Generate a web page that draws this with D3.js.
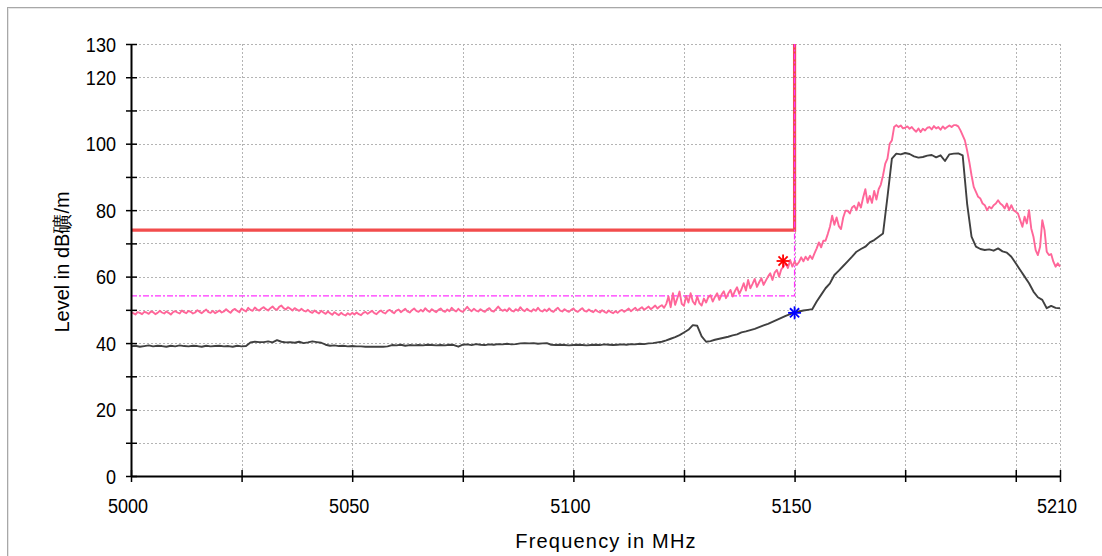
<!DOCTYPE html>
<html><head><meta charset="utf-8">
<script src="https://cdn.jsdelivr.net/npm/d3@7/dist/d3.min.js"></script>
<style>
html,body{margin:0;padding:0;background:#fff;overflow:hidden;}
svg{display:block;}
text{font-family:"Liberation Sans",Arial,sans-serif;fill:#000;}
</style></head><body>
<svg id="chart" width="1102" height="556"></svg>
<script>
// ---- data ----
const freqStart = 5000;
const peakStep = 0.5;   // MHz between peak samples
const avgStep = 1;      // MHz between average samples
const peakLevel = [
 49.2,49.0,48.6,49.3,49.1,48.7,49.4,49.2,48.8,49.5,49.3,48.7,49.1,49.7,49.2,48.9,49.5,49.1,48.6,49.3,
 49.6,49.2,48.9,49.8,49.3,49.0,49.7,49.4,48.9,49.2,49.9,49.4,49.0,49.6,50.1,49.3,49.1,49.7,49.0,49.4,
 49.8,49.2,49.5,50.2,49.6,49.1,49.9,50.3,49.7,49.3,50.4,49.9,49.5,50.6,50.0,49.7,50.7,50.1,49.8,50.4,
 50.8,50.2,49.8,50.5,51.0,50.3,50.0,50.9,51.3,50.5,50.1,50.8,50.3,49.8,50.5,50.1,49.7,50.3,49.8,49.5,
 50.0,49.4,49.1,49.8,49.3,48.9,49.7,49.2,48.8,49.5,49.0,48.5,49.3,48.8,48.4,49.1,48.6,48.3,49.0,48.5,
 49.1,48.6,49.2,48.7,48.4,49.1,49.4,48.8,49.3,49.7,49.0,48.7,49.4,49.8,49.2,48.9,49.7,50.0,49.4,49.0,
 49.8,50.1,49.3,49.8,50.3,49.5,49.2,49.9,50.4,49.7,49.4,50.0,49.5,50.5,49.8,49.4,50.2,49.7,49.3,50.0,
 50.4,49.7,49.4,50.1,49.6,50.6,49.9,49.5,50.3,49.7,49.4,50.1,50.9,50.1,49.6,50.3,49.8,49.5,50.2,49.7,
 49.4,50.1,50.5,49.7,49.5,50.2,51.0,50.2,49.7,50.1,49.6,50.5,49.8,49.5,50.2,49.7,50.8,50.0,49.6,50.3,
 49.8,49.5,50.2,49.7,50.6,49.8,49.5,50.1,49.6,50.4,49.7,49.4,50.1,50.6,49.8,49.5,50.2,49.7,49.4,50.0,
 50.4,49.7,49.4,50.0,50.5,49.7,49.5,50.1,49.6,49.3,50.0,49.5,49.2,49.9,49.4,49.1,49.8,49.3,49.0,49.6,
 49.1,49.7,50.0,49.4,49.9,50.4,49.6,50.1,50.6,49.8,50.3,50.8,50.0,50.5,51.0,50.2,50.7,51.3,50.4,51.0,
 51.4,50.6,51.8,54.0,50.8,55.0,51.5,53.5,55.5,51.8,51.2,54.2,52.2,55.0,52.5,51.6,54.0,52.0,51.3,53.4,
 52.2,53.8,54.4,52.5,53.9,55.0,53.0,54.6,55.6,53.5,54.9,56.0,54.0,55.6,56.8,54.8,56.2,58.0,55.8,59.0,
 56.5,57.8,59.3,56.9,58.3,59.5,57.5,58.8,60.0,61.0,59.0,61.2,62.0,60.0,62.2,63.0,64.0,62.6,65.0,63.0,
 64.5,63.5,64.4,65.8,64.6,66.0,65.0,66.3,65.3,67.0,68.5,70.3,68.8,70.8,70.8,72.8,75.0,78.3,75.6,77.8,
 75.2,74.3,77.8,79.8,79.8,79.0,80.8,81.3,80.0,82.3,80.8,83.8,86.3,82.2,84.3,82.2,85.8,83.2,86.3,87.7,
 90.5,94.0,95.5,100.0,101.0,105.0,105.6,105.0,105.5,104.6,104.8,105.2,104.5,105.0,104.2,103.6,104.6,103.5,104.5,104.0,
 104.8,105.0,104.3,105.3,104.6,105.0,104.2,105.2,104.5,105.0,105.5,105.0,105.6,105.6,105.2,104.0,102.5,101.0,98.0,94.5,
 90.5,87.0,85.5,84.0,83.5,82.0,81.5,80.0,81.0,80.5,81.5,82.0,83.0,82.0,81.5,80.5,82.0,80.0,81.5,80.0,
 79.5,79.0,77.0,75.0,78.0,76.0,80.0,74.5,72.0,68.0,66.5,69.0,77.0,74.0,67.5,66.5,66.8,64.5,63.0,64.0,63.0
];
const avgLevel = [
 39.0,39.2,38.9,39.1,39.3,39.0,39.2,39.1,38.9,39.2,
 39.0,39.3,39.1,39.0,39.2,39.1,38.9,39.2,39.0,39.1,
 39.2,39.0,39.1,38.9,39.2,39.0,39.1,40.2,40.4,40.3,
 40.3,40.5,40.2,40.9,40.4,40.2,40.3,40.1,40.4,40.0,
 40.2,40.5,40.3,40.1,39.5,39.2,39.3,39.1,39.2,39.0,
 39.1,39.0,39.0,38.9,38.9,38.9,38.9,38.9,39.0,39.4,
 39.3,39.5,39.2,39.4,39.3,39.4,39.3,39.5,39.4,39.3,
 39.4,39.3,39.5,39.4,38.9,39.5,39.6,39.4,39.7,39.5,
 39.4,39.6,39.5,39.7,39.6,39.8,39.6,39.7,39.9,40.0,
 39.9,40.0,39.8,39.9,40.0,39.5,39.4,39.5,39.4,39.3,
 39.4,39.5,39.4,39.3,39.4,39.5,39.4,39.6,39.5,39.4,
 39.5,39.6,39.5,39.7,39.6,39.8,39.7,39.9,40.0,40.2,
 40.4,40.8,41.3,41.8,42.4,43.2,44.0,45.4,45.2,42.0,
 40.4,40.6,41.0,41.3,41.6,41.9,42.3,42.6,43.2,43.5,
 43.9,44.3,44.8,45.3,45.8,46.4,47.0,47.6,48.2,48.7,
 49.2,49.5,49.8,50.0,50.2,52.5,54.5,56.5,58.0,60.5,
 61.8,63.2,64.6,66.0,67.5,68.3,69.0,70.3,71.0,72.0,
 73.0,84.0,95.5,97.0,96.8,97.2,96.9,96.2,95.8,96.0,
 96.4,96.6,95.9,96.5,94.8,96.8,97.0,97.1,96.5,82.0,
 72.0,69.0,68.3,68.0,68.2,67.8,68.5,67.6,67.2,66.0,
 64.0,62.0,60.0,58.0,55.5,53.8,53.0,50.5,51.2,50.6,50.5
];
const limitFreq = [5000, 5150, 5150];
const limitLevel = [74, 74, 130];
const displayFreq = [5000, 5150, 5150];
const displayLevel = [54.2, 54.2, 130];
const markerPeak = {freq: 5147.4, level: 64.7};
const markerAvg = {freq: 5150, level: 49.1};
const xTickValues = [5000,5025,5050,5075,5100,5125,5150,5175,5200,5210];
const xLabelValues = [5000,5050,5100,5150,5210];
const yTickValues = [0,10,20,30,40,50,60,70,80,90,100,110,120,130];
const yLabelValues = [0,20,40,60,80,100,120,130];
const xTitle = "Frequency in MHz";
const yTitle = "Level in dB礦/m";

// ---- drawing ----
const svg = d3.select("#chart");
const x = d3.scaleLinear().domain([5000, 5210]).range([131, 1060]);
const y = d3.scaleLinear().domain([0, 130]).range([476, 44]);

// outer frame
svg.append("line").attr("x1",7).attr("x2",1102).attr("y1",7.5).attr("y2",7.5).attr("stroke","#a8a8a8").attr("stroke-width",1);
svg.append("line").attr("x1",8).attr("x2",1102).attr("y1",8.5).attr("y2",8.5).attr("stroke","#e6e6e6").attr("stroke-width",1);
svg.append("line").attr("x1",7.5).attr("x2",7.5).attr("y1",7).attr("y2",556).attr("stroke","#a8a8a8").attr("stroke-width",1);
svg.append("line").attr("x1",8.5).attr("x2",8.5).attr("y1",8).attr("y2",556).attr("stroke","#e6e6e6").attr("stroke-width",1);

// grid
const grid = svg.append("g").attr("stroke","#b4b4b4").attr("stroke-width",1).attr("stroke-dasharray","2,2");
grid.selectAll(".vg").data(xTickValues.filter(d => d !== 5000)).join("line")
  .attr("x1", d => Math.round(x(d)) + 0.5).attr("x2", d => Math.round(x(d)) + 0.5)
  .attr("y1", y(130)).attr("y2", y(0));
grid.selectAll(".hg").data(yTickValues.filter(d => d !== 0)).join("line")
  .attr("x1", x(5000)).attr("x2", x(5210))
  .attr("y1", d => Math.round(y(d)) + 0.5).attr("y2", d => Math.round(y(d)) + 0.5);

// limit line
const lineFn = d3.line().x(d => x(d[0])).y(d => y(d[1]));
svg.append("path").attr("d", lineFn(limitFreq.map((f,i) => [f, limitLevel[i]])))
  .attr("fill","none").attr("stroke","#f24c4c").attr("stroke-width",3.2);
// display line (dash-dot)
svg.append("path").attr("d", lineFn(displayFreq.map((f,i) => [f, displayLevel[i]])))
  .attr("fill","none").attr("stroke","#ff33ff").attr("stroke-width",1.3).attr("stroke-dasharray","6,2,2,2");

// traces
const avgPts = avgLevel.map((v,i) => [freqStart + i*avgStep, v]);
const pkPts = peakLevel.map((v,i) => [freqStart + i*peakStep, v]);
svg.append("path").attr("d", lineFn(avgPts)).attr("fill","none").attr("stroke","#404040").attr("stroke-width",1.9).attr("stroke-linejoin","round");
svg.append("path").attr("d", lineFn(pkPts)).attr("fill","none").attr("stroke","#ff6699").attr("stroke-width",1.9).attr("stroke-linejoin","round");

// markers
function asterisk(cx, cy, color){
  const g = svg.append("g").attr("stroke", color).attr("stroke-width", 1.8);
  const r = 6.5;
  [0,45,90,135].forEach(a => {
    const rad = a*Math.PI/180;
    g.append("line").attr("x1", cx - r*Math.cos(rad)).attr("y1", cy - r*Math.sin(rad))
      .attr("x2", cx + r*Math.cos(rad)).attr("y2", cy + r*Math.sin(rad));
  });
}
asterisk(x(markerPeak.freq), y(markerPeak.level), "#ff0000");
asterisk(x(markerAvg.freq), y(markerAvg.level), "#0000ff");

// axes
const axX = svg.append("g").attr("transform", `translate(0,${y(0)})`)
  .call(d3.axisBottom(x).tickValues(xTickValues).tickFormat("").tickSizeOuter(0));
axX.select(".domain").attr("stroke","#000").attr("stroke-width",2);
axX.selectAll(".tick line").attr("y1",-6).attr("y2",6).attr("stroke","#000").attr("stroke-width",1.5);
const axY = svg.append("g").attr("transform", `translate(${x(5000)},0)`)
  .call(d3.axisLeft(y).tickValues(yTickValues).tickFormat("").tickSizeOuter(0));
axY.select(".domain").attr("stroke","#000").attr("stroke-width",2);
axY.selectAll(".tick line").attr("x1",-5).attr("x2",6).attr("stroke","#000").attr("stroke-width",1.5);

// tick labels
svg.selectAll(".xl").data(xLabelValues).join("text")
  .attr("transform", d => `translate(${x(d) - 3},513) scale(0.86,1)`)
  .attr("text-anchor","middle").style("font-size","21px").text(d => d);
svg.selectAll(".yl").data(yLabelValues).join("text")
  .attr("transform", d => `translate(116,${y(d) + 7.5}) scale(0.86,1)`)
  .attr("text-anchor","end").style("font-size","21px").text(d => d);

// titles
svg.append("text").attr("x", 606).attr("y", 548).attr("text-anchor","middle")
  .style("font-size","20px").style("letter-spacing","1.2px").text(xTitle);
svg.append("text").attr("transform","translate(69,262) rotate(-90)").attr("text-anchor","middle")
  .style("font-size","20px").text(yTitle);
</script>
</body></html>
